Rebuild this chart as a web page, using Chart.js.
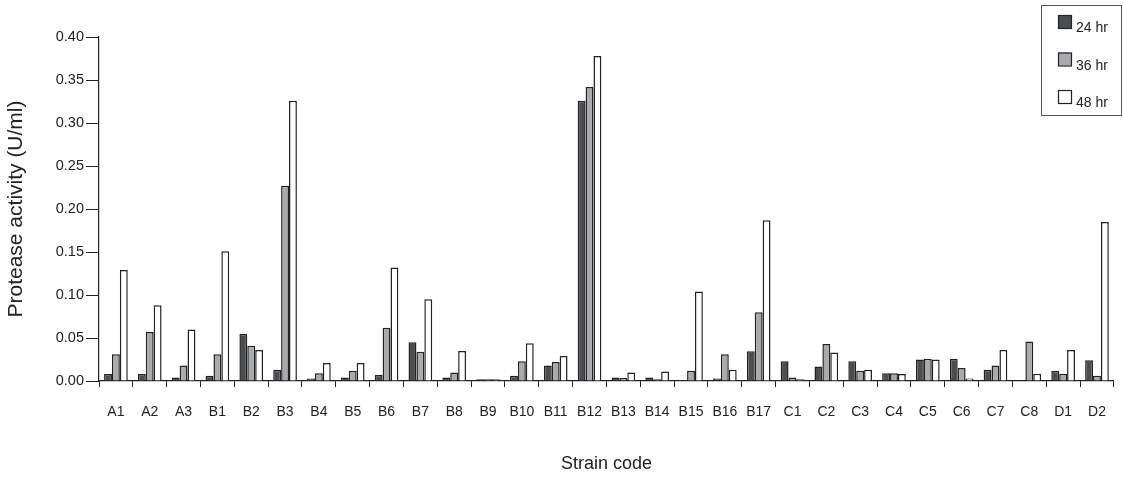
<!DOCTYPE html>
<html>
<head>
<meta charset="utf-8">
<style>
  html, body { margin: 0; padding: 0; background: #fff; }
  #wrap { width: 1123px; height: 479px; position: relative; }
</style>
<script src="https://cdn.jsdelivr.net/npm/chart.js@4/dist/chart.umd.min.js"></script>
</head>
<body>
<div id="wrap"><canvas id="c" width="1123" height="479"></canvas></div>
<script>
const strains = ['A1','A2','A3','B1','B2','B3','B4','B5','B6','B7','B8','B9','B10','B11','B12','B13','B14','B15','B16','B17','C1','C2','C3','C4','C5','C6','C7','C8','D1','D2'];

const activity24 = [0.008,0.008,0.004,0.006,0.055,0.013,0.003,0.004,0.007,0.045,0.004,0.002,0.006,0.018,0.326,0.004,0.004,0.001,0.003,0.0345,0.023,0.017,0.023,0.009,0.025,0.026,0.013,0,0.012,0.024];
const activity36 = [0.031,0.057,0.018,0.031,0.041,0.227,0.009,0.012,0.062,0.034,0.010,0.002,0.023,0.022,0.342,0.0035,0.002,0.012,0.031,0.080,0.004,0.043,0.012,0.009,0.026,0.015,0.018,0.046,0.0085,0.006];
const activity48 = [0.129,0.088,0.060,0.151,0.036,0.326,0.021,0.021,0.132,0.095,0.035,0.002,0.044,0.029,0.378,0.010,0.011,0.104,0.013,0.187,0.002,0.033,0.013,0.008,0.025,0.003,0.036,0.0085,0.036,0.185];

const yTicks = [0, 0.05, 0.10, 0.15, 0.20, 0.25, 0.30, 0.35, 0.40];

const FONT = '"Liberation Sans", Arial, Helvetica, sans-serif';
const INK = '#222222';

// Boxed legend in the top-right corner, built from the datasets
const boxLegend = {
  id: 'boxLegend',
  afterDraw(chart) {
    const ctx = chart.ctx;
    ctx.save();
    ctx.strokeStyle = '#555';
    ctx.lineWidth = 1;
    ctx.strokeRect(1041.5, 5.5, 80, 110);
    ctx.font = '14px ' + FONT;
    ctx.textBaseline = 'alphabetic';
    ctx.textAlign = 'left';
    chart.data.datasets.forEach((ds, i) => {
      const y = 15 + i * 37.5;
      ctx.fillStyle = ds.backgroundColor;
      ctx.fillRect(1058, y, 13, 13);
      ctx.strokeStyle = INK;
      ctx.lineWidth = 1.2;
      ctx.strokeRect(1058.5, y + 0.5, 13, 13);
      ctx.fillStyle = INK;
      ctx.fillText(ds.label, 1076, y + 17);
    });
    ctx.restore();
  }
};

new Chart(document.getElementById('c'), {
  type: 'bar',
  data: {
    labels: strains,
    datasets: [
      { label: '24 hr', data: activity24, backgroundColor: '#4b4e51', borderColor: INK, borderWidth: 1.5 },
      { label: '36 hr', data: activity36, backgroundColor: '#a8aaad', borderColor: INK, borderWidth: 1.5 },
      { label: '48 hr', data: activity48, backgroundColor: '#ffffff', borderColor: INK, borderWidth: 1.5 }
    ]
  },
  options: {
    responsive: false,
    animation: false,
    devicePixelRatio: 1,
    layout: { padding: { top: 37, right: 5, left: 0, bottom: 0 } },
    datasets: { bar: { categoryPercentage: 0.7, barPercentage: 1.0 } },
    plugins: { legend: { display: false }, tooltip: { enabled: false } },
    scales: {
      x: {
        grid: { offset: true, drawOnChartArea: false, tickLength: 6, color: INK, lineWidth: 1 },
        border: { display: true, color: INK, width: 1.2 },
        ticks: { color: INK, font: { family: FONT, size: 14 }, padding: 17, maxRotation: 0, autoSkip: false },
        title: { display: true, text: 'Strain code', color: INK, font: { family: FONT, size: 18 }, padding: { top: 20 } },
        afterFit(s) { s.height = 98; }
      },
      y: {
        min: 0,
        max: 0.4,
        afterBuildTicks(s) { s.ticks = yTicks.map(v => ({ value: v })); },
        grid: { drawOnChartArea: false, tickLength: 13, color: INK, lineWidth: 1 },
        border: { display: true, color: INK, width: 1.2 },
        ticks: { color: INK, font: { family: FONT, size: 14.5 }, padding: 2, callback: v => Number(v).toFixed(2) },
        title: { display: true, text: 'Protease activity (U/ml)', color: INK, font: { family: FONT, size: 21 }, padding: { top: 4, bottom: 0 } },
        afterFit(s) { s.width = 99; }
      }
    }
  },
  plugins: [boxLegend]
});
</script>
</body>
</html>
